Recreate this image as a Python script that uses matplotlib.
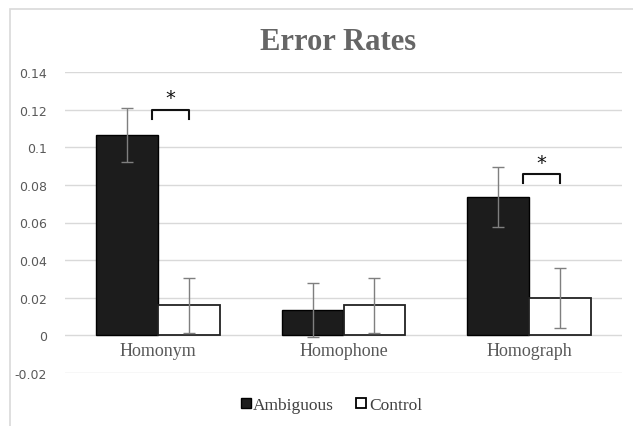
import numpy as np
import matplotlib.pyplot as plt
from matplotlib.patches import Rectangle

categories = ['Homonym', 'Homophone', 'Homograph']
ambiguous = [0.1065, 0.0135, 0.0735]
ambiguous_err = [0.0143, 0.0145, 0.016]
control = [0.016, 0.016, 0.020]
control_err = [0.0145, 0.0145, 0.016]
yticks = [-0.02, 0, 0.02, 0.04, 0.06, 0.08, 0.1, 0.12, 0.14]
ytick_labels = ['-0.02', '0', '0.02', '0.04', '0.06', '0.08', '0.1', '0.12', '0.14']
# significance brackets: category index, bracket height
sig_cats = [0, 2]
sig_heights = [0.1197, 0.0856]

fig = plt.figure(figsize=(6.33, 4.27), dpi=100)
fig.patches.append(Rectangle((10 / 633, -0.1), 1.2, 1 - 10 / 427 + 0.1,
                             transform=fig.transFigure, fill=False,
                             edgecolor='#d9d9d9', linewidth=1.2))
ax = fig.add_axes([65 / 633, 53 / 427, 557 / 633, 301 / 427])

x = np.arange(len(categories))
w = 1 / 3
err_kw = dict(ecolor='#7f7f7f', elinewidth=1, capsize=4, capthick=1)
ax.bar(x - w / 2, ambiguous, w, color='#1c1c1c', edgecolor='black',
       linewidth=1, yerr=ambiguous_err, error_kw=err_kw, label='Ambiguous', zorder=3)
ax.bar(x + w / 2, control, w, color='white', edgecolor='#222222',
       linewidth=1.3, yerr=control_err, error_kw=err_kw, label='Control', zorder=3)

# brackets with stars
for c, h in zip(sig_cats, sig_heights):
    x0, x1 = c - 0.032, c + w / 2
    ax.plot([x0, x0, x1, x1], [h - 0.0045, h, h, h - 0.0045],
            color='#111111', linewidth=1.5, zorder=4)
    ax.text((x0 + x1) / 2, h + 0.0015, '*', ha='center', va='bottom',
            fontsize=14, family='DejaVu Sans', color='#111111')

ax.set_xlim(-0.5, 2.5)
ax.set_ylim(-0.02, 0.14)
ax.set_yticks(yticks)
ax.set_yticklabels(ytick_labels)
ax.grid(axis='y', color='#d9d9d9', linewidth=1, zorder=0)
ax.set_axisbelow(True)
for s in ax.spines.values():
    s.set_visible(False)
ax.spines['bottom'].set_position(('data', 0))
ax.tick_params(axis='y', length=0, labelsize=9, labelcolor='#595959', pad=13)
ax.tick_params(axis='x', length=0, labelsize=13, labelcolor='#595959', pad=5)
ax.set_xticks(x)
ax.set_xticklabels(categories, family='Liberation Serif')

fig.text(338 / 633, 1 - 42 / 427, 'Error Rates', ha='center', va='center',
         fontsize=22, fontweight='bold', family='Liberation Serif', color='#666666')

h1 = plt.Line2D([], [], marker='s', linestyle='', markersize=7.5,
                markerfacecolor='#1c1c1c', markeredgecolor='black')
h2 = plt.Line2D([], [], marker='s', linestyle='', markersize=7.5,
                markerfacecolor='white', markeredgecolor='black', markeredgewidth=1.3)
fig.legend([h1, h2], ['Ambiguous', 'Control'], loc='center',
           bbox_to_anchor=(329 / 633, 1 - 406 / 427), ncol=2, frameon=False,
           prop={'family': 'Liberation Serif', 'size': 12.5},
           handletextpad=-0.1, columnspacing=1.0, handlelength=1.1, labelcolor='#404040')

fig.savefig('out.png', dpi=100)
